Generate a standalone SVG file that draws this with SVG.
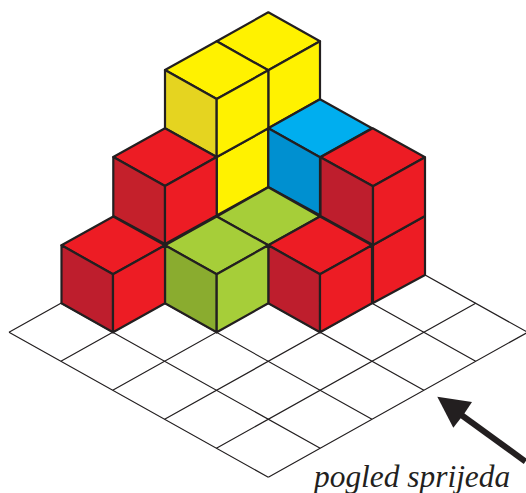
<svg xmlns="http://www.w3.org/2000/svg" width="526" height="493" viewBox="0 0 526 493">
<style>
.grid{stroke:#231f20;stroke-width:1.2;fill:none}
.c polygon{stroke:#231f20;stroke-width:2.2;stroke-linejoin:round}
.r{fill:#ed1c24}.rd{fill:#be1e2d}.rm{fill:#c4202b}
.y{fill:#fff200}.yd{fill:#e5d420}
.g{fill:#a6ce39}.gd{fill:#8aac2f}
.b{fill:#00aeef}.bd{fill:#0090d0}
text{font-family:"Liberation Serif","Times New Roman",serif;font-style:italic;font-size:31.4px;fill:#231f20}
</style>
<g id="connectors">
<g id="grid" class="grid">
<path d="M9 332.3L268.3 477.3M60.9 303.3L320.2 448.3M112.7 274.3L372 419.3M164.6 245.3L423.9 390.3M216.4 216.3L475.7 361.3M268.3 187.3L527.6 332.3"/>
<path d="M9 332.3L268.3 187.3M60.9 361.3L320.2 216.3M112.7 390.3L372 245.3M164.6 419.3L423.9 274.3M216.4 448.3L475.7 303.3M268.3 477.3L527.6 332.3"/>
</g>
<g id="arrow">
<line x1="525.5" y1="461.5" x2="460" y2="414" stroke="#231f20" stroke-width="6"/>
<polygon points="437.3,396.7 472,402 464,414 453.3,427.7" fill="#231f20"/>
</g>
</g>
<g id="cube-yellow-lower" class="c">
<polygon class="y" points="216.7,157 268.3,128.3 268.3,187 216.7,215.5"/>
</g>
<g id="cube-yellow-back" class="c">
<polygon class="y" points="268.3,12.3 320,41.3 268.3,70.3 216.7,41.3"/>
<polygon class="y" points="268.3,70.3 320,41.3 320,99.3 268.3,128.3"/>
</g>
<g id="cube-yellow-front" class="c">
<polygon class="y" points="216.7,41.3 268.3,70.3 216.7,99 165,70"/>
<polygon class="yd" points="165,70 216.7,99 216.7,157 165,128.3"/>
<polygon class="y" points="216.7,99 268.3,70.3 268.3,128.3 216.7,157"/>
</g>
<g id="cube-blue" class="c">
<polygon class="b" points="320,99.3 372,128.3 320,157.3 268.3,128.3"/>
<polygon class="bd" points="268.3,128.3 320,157.3 320,215.3 268.3,187"/>
</g>
<g id="cube-red-mid" class="c">
<polygon class="r" points="165,128.3 216.7,157 165,186 113.3,157"/>
<polygon class="rm" points="113.3,157 165,186 165,244 113.3,216"/>
<polygon class="r" points="165,186 216.7,157 216.7,215.5 165,244"/>
</g>
<g id="cube-green-back" class="c">
<polygon class="g" points="268.3,187.3 320,216.5 268.3,245.3 216.7,216.5"/>
</g>
<g id="cube-red-right-lower" class="c">
<polygon class="r" points="373,245 425,216 425,275 373,303"/>
</g>
<g id="cube-red-right-upper" class="c">
<polygon class="r" points="372.7,128.3 425,157.3 373,186.3 320.5,157.3"/>
<polygon class="rd" points="320.5,157.3 373,186.3 373,245 320.5,216"/>
<polygon class="r" points="373,186.3 425,157.3 425,216 373,245"/>
</g>
<g id="cube-red-front-right" class="c">
<polygon class="r" points="320,216.5 372,245.3 320,274.3 268.3,245.3"/>
<polygon class="rd" points="268.3,245.3 320,274.3 320,332.3 268.3,303.3"/>
<polygon class="r" points="320,274.3 372,245.3 372,303.3 320,332.3"/>
</g>
<g id="cube-green-front" class="c">
<polygon class="g" points="216.7,216.5 268.3,245.3 216.7,274.3 165,245.3"/>
<polygon class="gd" points="165,245.3 216.7,274.3 216.7,332.3 165,303.3"/>
<polygon class="g" points="216.7,274.3 268.3,245.3 268.3,303.3 216.7,332.3"/>
</g>
<g id="cube-red-front-left" class="c">
<polygon class="r" points="113.3,216.5 165,245.3 113,274.3 61.5,245.3"/>
<polygon class="rd" points="61.5,245.3 113,274.3 113,332.3 61.5,303.3"/>
<polygon class="r" points="113,274.3 165,245.3 165,303.3 113,332.3"/>
</g>
<g id="label"><text x="314" y="487">pogled sprijeda</text></g>
</svg>
